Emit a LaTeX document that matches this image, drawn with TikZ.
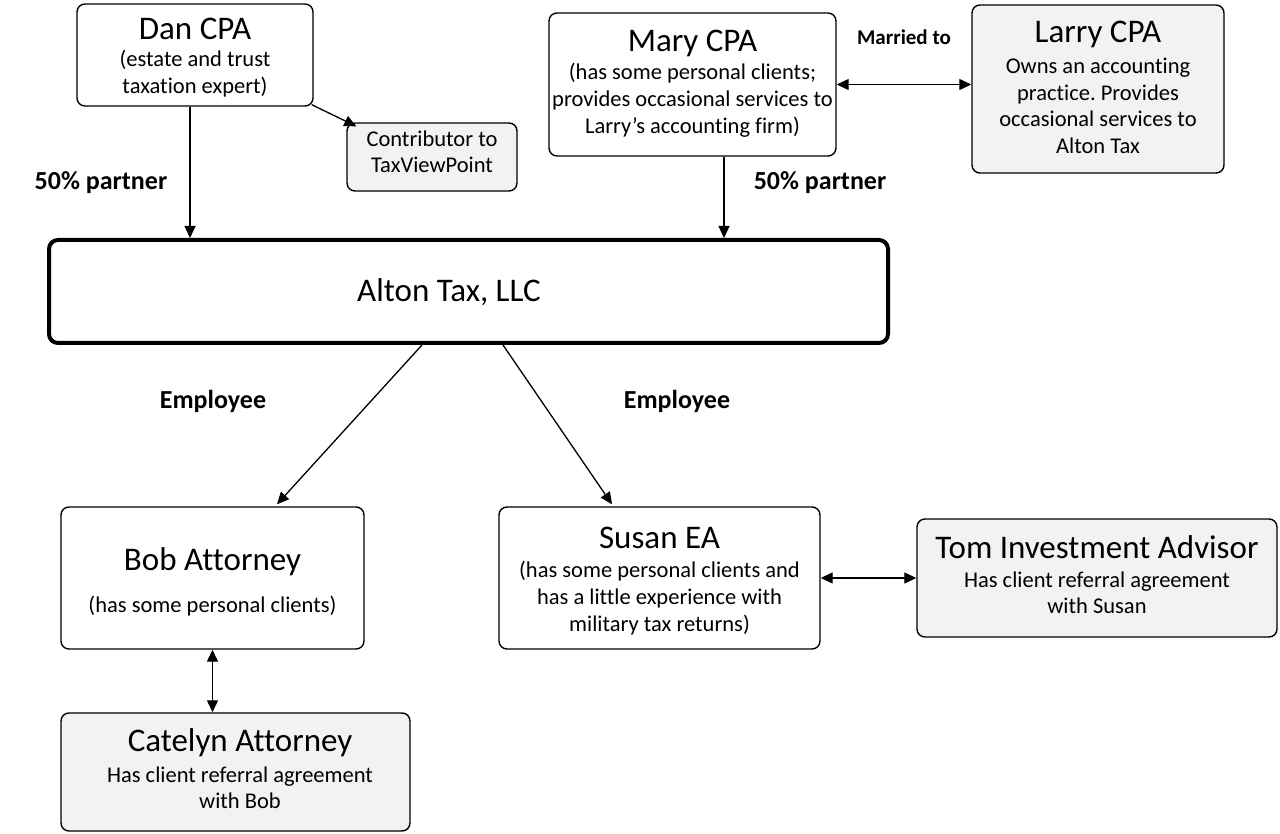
\documentclass[tikz,border=0pt]{standalone}
\usepackage{fontspec}
\setmainfont{Carlito}[Ligatures={NoCommon}]
\usetikzlibrary{arrows.meta}
\definecolor{boxgray}{HTML}{F2F2F2}
\newcommand\blk[1]{\begin{tabular}[t]{@{}c@{}}#1\end{tabular}}
\frenchspacing
\begin{document}
\begin{tikzpicture}[x=1pt,y=-1pt,
  box/.style={draw=black, rounded corners=8pt, line width=1.4pt, fill=white, inner sep=0pt},
  gbox/.style={box, fill=boxgray},
  bigbox/.style={draw=black, rounded corners=9pt, line width=4pt, fill=white, inner sep=0pt},
  ttl/.style={font=\fontsize{33}{40}\selectfont, anchor=base, inner sep=0pt},
  sub/.style={font=\fontsize{22.5}{27}\selectfont, anchor=base, inner sep=0pt},
  lbl/.style={font=\fontsize{26}{30}\selectfont\bfseries, anchor=base, inner sep=0pt},
  arr/.style={line width=1.3pt, -{Triangle[length=12pt,width=11pt]}},
  darr/.style={line width=1.3pt, {Triangle[length=12pt,width=11pt]}-{Triangle[length=12pt,width=11pt]}}
]
\useasboundingbox (0,0) rectangle (1280,834);

% boxes
\node[box, minimum width=236pt, minimum height=102pt] (dan) at (195,55) {};
\node[gbox, minimum width=170pt, minimum height=68pt] (con) at (432,157) {};
\node[box, minimum width=287pt, minimum height=143pt] (mary) at (692.5,84.5) {};
\node[gbox, minimum width=252pt, minimum height=168pt] (larry) at (1098,89) {};
\node[bigbox, minimum width=839pt, minimum height=103pt] (alton) at (468.5,291.5) {};
\node[box, minimum width=303pt, minimum height=142pt] (bob) at (212.5,578) {};
\node[box, minimum width=321pt, minimum height=142pt] (susan) at (659.5,578) {};
\node[gbox, minimum width=360pt, minimum height=118pt] (tom) at (1097,578) {};
\node[gbox, minimum width=349pt, minimum height=118pt] (cat) at (235.5,772) {};

% texts
\node[ttl] (dant) at (195,40) {Dan CPA};
\node[sub] (dans) at (195,67) {\blk{(estate and trust\\taxation expert)}};
\node[sub] (cons) at (432,147) {\blk{Contributor to\\[-1pt]TaxViewPoint}};
\node[ttl] (maryt) at (692.5,52) {Mary CPA};
\node[sub] (marys) at (692.5,80) {\blk{(has some personal clients;\\provides occasional services to\\Larry’s accounting firm)}};
\node[ttl] (larryt) at (1098,43) {Larry CPA};
\node[sub] (larrys) at (1098,74) {\blk{Owns an accounting\\[-0.5pt]practice. Provides\\[-0.5pt]occasional services to\\[-0.5pt]Alton Tax}};
\node[ttl] (altont) at (449,302) {Alton Tax, LLC};
\node[ttl] (bobt) at (212.5,570) {Bob Attorney};
\node[sub] (bobs) at (212.5,612) {(has some personal clients)};
\node[ttl] (susant) at (659.5,548) {Susan EA};
\node[sub] (susans) at (659.5,577) {\blk{(has some personal clients and\\has a little experience with\\military tax returns)}};
\node[ttl] (tomt) at (1097,558) {Tom Investment Advisor};
\node[sub] (toms) at (1097,587) {\blk{Has client referral agreement\\[-1pt]with Susan}};
\node[ttl] (catt) at (240,751) {Catelyn Attorney};
\node[sub] (cats) at (240,782) {\blk{Has client referral agreement\\[-1pt]with Bob}};

% labels
\node[lbl] (p1) at (101,190) {50\% partner};
\node[lbl] (p2) at (820,190) {50\% partner};
\node[lbl, font=\fontsize{21}{25}\selectfont\bfseries] (mt) at (904,45) {Married to};
\node[lbl] (e1) at (213,408) {Employee};
\node[lbl] (e2) at (677,408) {Employee};

% connectors
\draw[arr] ([xshift=-5pt]dan.south) -- ([xshift=-5pt]dan.south |- alton.north);
\draw[arr] ([xshift=31.5pt]mary.south) -- ([xshift=31.5pt]mary.south |- alton.north);
\draw[arr] ([xshift=-2pt,yshift=2pt]dan.south east) -- ([xshift=10pt,yshift=-4pt]con.north west);
\draw[darr] (mary.east) -- (mary.east -| larry.west);
\draw[arr] ([xshift=-46.5pt]alton.south) -- ([xshift=64.5pt,yshift=2pt]bob.north);
\draw[arr] ([xshift=34.5pt]alton.south) -- ([xshift=-47.5pt,yshift=2pt]susan.north);
\draw[darr] (susan.east) -- (susan.east -| tom.west);
\draw[darr] (bob.south) -- (bob.south |- cat.north);
\end{tikzpicture}
\end{document}
